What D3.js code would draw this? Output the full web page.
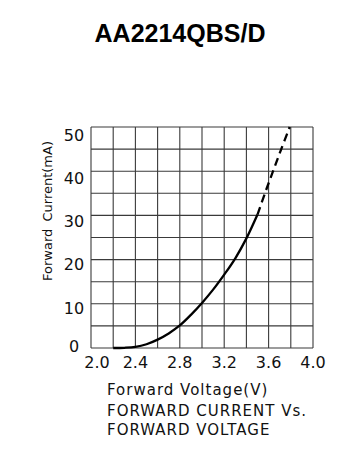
<!DOCTYPE html>
<html><head><meta charset="utf-8">
<script src="https://cdn.jsdelivr.net/npm/d3@7"></script>
<style>html,body{margin:0;padding:0;background:#fff;}svg{display:block;}</style>
</head><body>
<script>
const title = "AA2214QBS/D";
const xLabel = "Forward Voltage(V)";
const yLabel = "Forward Current(mA)";
const captionLines = ["FORWARD CURRENT Vs.", "FORWARD VOLTAGE"];
const xTicks = [2.0, 2.4, 2.8, 3.2, 3.6, 4.0];
const yTicks = [0, 10, 20, 30, 40, 50];
const xGrid = [2.0,2.2,2.4,2.6,2.8,3.0,3.2,3.4,3.6,3.8,4.0];
const yGrid = [0,5,10,15,20,25,30,35,40,45,50];
const solidV = [2.2, 2.3, 2.4, 2.5, 2.6, 2.7, 2.8, 2.9, 3.0, 3.1, 3.2, 3.3, 3.4, 3.5];
const solidI = [0, 0.05, 0.25, 0.85, 1.9, 3.3, 5.1, 7.5, 10.2, 13.2, 16.6, 20.3, 24.8, 30.2];
const dashV = [3.5, 3.567, 3.64, 3.714, 3.79];
const dashI = [30.2, 35, 40, 45, 50];

const W = 356, H = 457;
const svg = d3.select("body").append("svg").attr("width", W).attr("height", H);
const x = d3.scaleLinear().domain([2, 4]).range([91, 313]);
const y = d3.scaleLinear().domain([0, 50]).range([348, 127]);
const font = "DejaVu Sans, sans-serif";

svg.append("text").attr("x", 180).attr("y", 42).attr("text-anchor", "middle")
  .attr("font-family", "Liberation Sans, Arial, sans-serif").attr("font-weight", "bold")
  .attr("font-size", 25).text(title);

const g = svg.append("g");
g.selectAll("line.vg").data(xGrid).join("line").attr("class","vg")
  .attr("x1", d => x(d)).attr("x2", d => x(d)).attr("y1", y(0)).attr("y2", y(50))
  .attr("stroke", "#3a3a3a").attr("stroke-width", 1.1);
g.selectAll("line.hg").data(yGrid).join("line").attr("class","hg")
  .attr("y1", d => y(d)).attr("y2", d => y(d)).attr("x1", x(2)).attr("x2", x(4))
  .attr("stroke", "#3a3a3a").attr("stroke-width", 1.1);

// tick labels
svg.selectAll("text.xt").data(xTicks).join("text").attr("class","xt")
  .attr("x", d => x(d)).attr("dx", (d, i) => i === 0 ? 6 : 0).attr("y", 368)
  .attr("text-anchor", "middle")
  .attr("font-family", font).attr("font-size", 16).attr("fill", "#111")
  .text(d => d.toFixed(1));
svg.selectAll("text.yt").data(yTicks).join("text").attr("class","yt")
  .attr("x", 74).attr("y", d => y(d)).attr("dy", d => d === 0 ? 4 : 9 + d * 0.09)
  .attr("text-anchor", "middle")
  .attr("font-family", font).attr("font-size", 16).attr("fill", "#111")
  .text(d => d);

// curve
const line = d3.line().x(d => x(d[0])).y(d => y(d[1])).curve(d3.curveCatmullRom.alpha(0.5));
svg.append("path").datum(solidV.map((v, i) => [v, solidI[i]]))
  .attr("d", line).attr("fill", "none").attr("stroke", "#000").attr("stroke-width", 2.3);
svg.append("path").datum(dashV.map((v, i) => [v, dashI[i]]))
  .attr("d", line).attr("fill", "none").attr("stroke", "#000").attr("stroke-width", 2.3)
  .attr("stroke-dasharray", "8,5");

// axis titles
svg.append("text").attr("transform", "translate(52,211) rotate(-90)")
  .attr("text-anchor", "middle").attr("font-family", font).attr("font-size", 13)
  .attr("word-spacing", 3).attr("fill", "#111").text(yLabel);
svg.append("text").attr("x", 107).attr("y", 395)
  .attr("font-family", font).attr("font-size", 15).attr("letter-spacing", 1)
  .attr("fill", "#111").text(xLabel);
svg.selectAll("text.cap").data(captionLines).join("text").attr("class","cap")
  .attr("x", 107).attr("y", (d, i) => 416 + i * 18.5)
  .attr("font-family", font).attr("font-size", 15).attr("letter-spacing", 1)
  .attr("fill", "#111").text(d => d);
</script>
</body></html>
